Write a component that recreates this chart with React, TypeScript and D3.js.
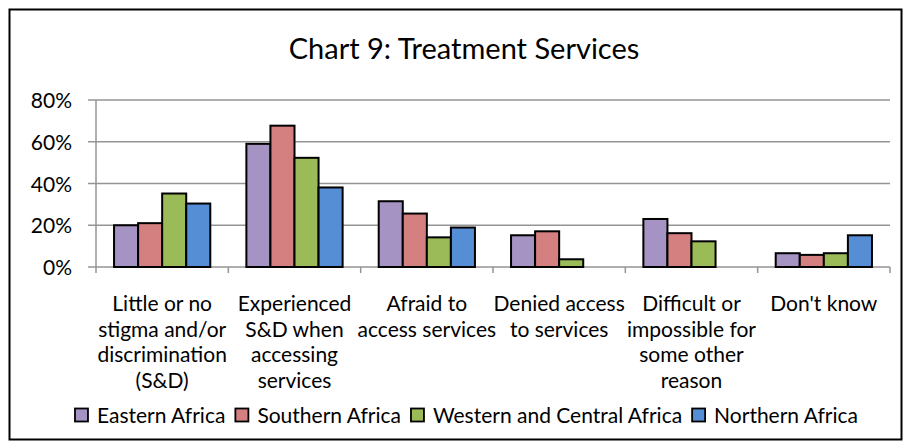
import React, { useEffect, useRef } from "react";
import * as d3 from "d3";

const title = "Chart 9: Treatment Services";
const categories = [
  ["Little or no", "stigma and/or", "discrimination", "(S&D)"],
  ["Experienced", "S&D when", "accessing", "services"],
  ["Afraid to", "access services"],
  ["Denied access", "to services"],
  ["Difficult or", "impossible for", "some other", "reason"],
  ["Don't know"],
];
const seriesNames = ["Eastern Africa", "Southern Africa", "Western and Central Africa", "Northern Africa"];
const seriesColors = ["#A593C3", "#D58080", "#9BBB59", "#558ED5"];
const easternAfrica = [20, 59, 31.5, 15.2, 23, 6.6];
const southernAfrica = [21, 67.7, 25.6, 17.1, 16.2, 5.8];
const westernCentralAfrica = [35.2, 52.3, 14.2, 3.7, 12.3, 6.6];
const northernAfrica = [30.4, 38.1, 18.9, 0, 0, 15.2];
const yTicks = [0, 20, 40, 60, 80];

const W = 911;
const H = 448;
const FONT = "Lato, 'Open Sans', sans-serif";

export default function App() {
  const ref = useRef<SVGSVGElement | null>(null);

  useEffect(() => {
    document.body.style.margin = "0";
    const svg = d3.select(ref.current);
    svg.selectAll("*").remove();

    const series = [easternAfrica, southernAfrica, westernCentralAfrica, northernAfrica];
    const left = 96, right = 890, top = 100, bottom = 267;

    svg.append("rect").attr("x", 0).attr("y", 0).attr("width", W).attr("height", H).attr("fill", "#fff");
    svg.append("rect").attr("x", 9.5).attr("y", 9.5).attr("width", 892).attr("height", 430)
      .attr("fill", "none").attr("stroke", "#000").attr("stroke-width", 2);

    svg.append("text").attr("x", 464).attr("y", 59).attr("text-anchor", "middle")
      .attr("font-family", FONT).attr("font-size", 29).attr("fill", "#000").text(title);

    const x0 = d3.scaleBand<number>().domain(d3.range(categories.length)).range([left, right]).paddingInner(0).paddingOuter(0);
    const x1 = d3.scaleBand<number>().domain(d3.range(series.length)).range([0, x0.bandwidth()]).paddingOuter(0.75).paddingInner(0);
    const y = d3.scaleLinear().domain([0, 80]).range([bottom, top]);

    // gridlines
    svg.append("g").selectAll("line").data(yTicks).join("line")
      .attr("x1", left - 8).attr("x2", right).attr("y1", (d) => y(d)).attr("y2", (d) => y(d))
      .attr("stroke", "#959595").attr("stroke-width", 1.5);
    // y axis line
    svg.append("line").attr("x1", left).attr("x2", left).attr("y1", top).attr("y2", bottom)
      .attr("stroke", "#959595").attr("stroke-width", 1.5);
    // x ticks
    svg.append("g").selectAll("line").data(d3.range(categories.length + 1)).join("line")
      .attr("x1", (i) => left + i * x0.bandwidth()).attr("x2", (i) => left + i * x0.bandwidth())
      .attr("y1", bottom).attr("y2", bottom + 6).attr("stroke", "#959595").attr("stroke-width", 1.5);

    // y labels
    svg.append("g").selectAll("text").data(yTicks).join("text")
      .attr("x", 72).attr("y", (d) => y(d) + 8).attr("text-anchor", "end")
      .attr("font-family", FONT).attr("font-size", 21).attr("fill", "#000")
      .text((d) => `${d}%`);

    // bars
    series.forEach((vals, si) => {
      const pts = vals.map((v, ci) => ({ v, ci })).filter((d) => d.v > 0);
      svg.append("g").selectAll("rect").data(pts).join("rect")
        .attr("x", (d) => (x0(d.ci) as number) + (x1(si) as number))
        .attr("y", (d) => y(d.v))
        .attr("width", x1.bandwidth())
        .attr("height", (d) => y(0) - y(d.v))
        .attr("fill", seriesColors[si])
        .attr("stroke", "#000").attr("stroke-width", 2);
    });

    // category labels
    categories.forEach((lines, i) => {
      const cx = (x0(i) as number) + x0.bandwidth() / 2;
      const t = svg.append("text").attr("text-anchor", "middle").attr("font-family", FONT)
        .attr("font-size", 21).attr("fill", "#000");
      lines.forEach((ln, li) => {
        t.append("tspan").attr("x", cx).attr("y", 311 + li * 25.7).text(ln);
      });
    });

    // legend
    const lg = svg.append("g");
    const items = seriesNames.map((name, i) => {
      const g = lg.append("g");
      g.append("rect").attr("x", 0).attr("y", -14.5).attr("width", 13).attr("height", 13)
        .attr("fill", seriesColors[i]).attr("stroke", "#000").attr("stroke-width", 1.8);
      const tx = g.append("text").attr("x", 22).attr("y", 0).attr("font-family", FONT)
        .attr("font-size", 21).attr("fill", "#000").text(name);
      const w = (tx.node() as SVGTextElement).getComputedTextLength();
      return { g, w: 22 + w };
    });
    const gap = 10;
    const total = d3.sum(items, (d) => d.w) + gap * (items.length - 1);
    let cx = 466.5 - total / 2;
    items.forEach((it) => {
      it.g.attr("transform", `translate(${cx},423)`);
      cx += it.w + gap;
    });
  }, []);

  return <svg ref={ref} width={W} height={H} style={{ display: "block" }} />;
}
